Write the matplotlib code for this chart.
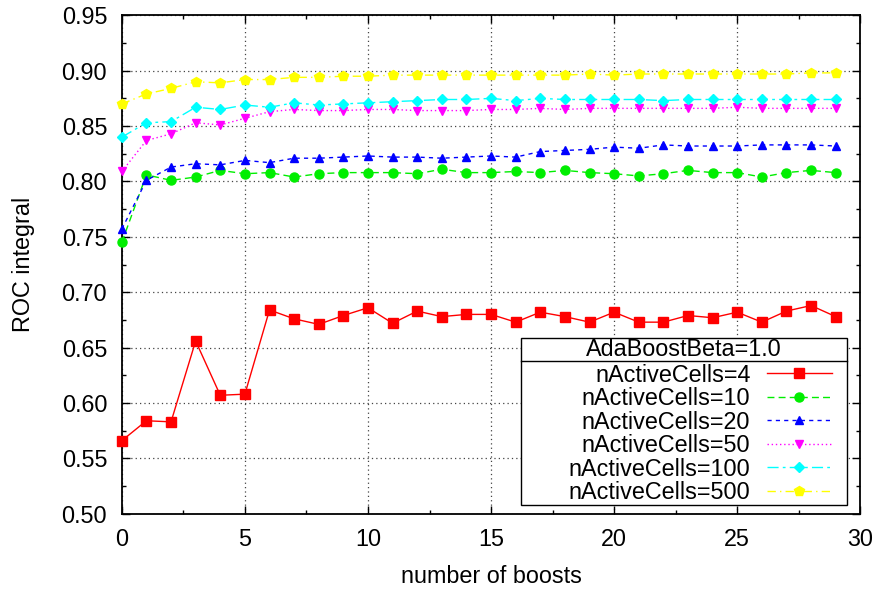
import matplotlib
matplotlib.use("Agg")
import matplotlib.pyplot as plt
from matplotlib.patches import Rectangle
from matplotlib.lines import Line2D
from matplotlib.ticker import MultipleLocator, FormatStrFormatter

plt.rcParams['font.family'] = ['Liberation Sans', 'DejaVu Sans']

boosts = list(range(30))

roc_4 = [0.566, 0.584, 0.583, 0.656, 0.607, 0.608, 0.684, 0.676, 0.671, 0.679,
         0.686, 0.672, 0.683, 0.678, 0.680, 0.680, 0.673, 0.682, 0.678, 0.673,
         0.682, 0.673, 0.673, 0.679, 0.677, 0.682, 0.673, 0.683, 0.688, 0.678]
roc_10 = [0.745, 0.806, 0.801, 0.804, 0.810, 0.807, 0.808, 0.804, 0.807, 0.808,
          0.808, 0.808, 0.807, 0.811, 0.808, 0.808, 0.809, 0.808, 0.810, 0.808,
          0.807, 0.805, 0.807, 0.810, 0.808, 0.808, 0.804, 0.808, 0.810, 0.808]
roc_20 = [0.757, 0.801, 0.813, 0.816, 0.815, 0.819, 0.817, 0.821, 0.821, 0.822,
          0.823, 0.822, 0.822, 0.821, 0.822, 0.823, 0.822, 0.827, 0.828, 0.829,
          0.831, 0.830, 0.833, 0.832, 0.832, 0.832, 0.833, 0.833, 0.833, 0.832]
roc_50 = [0.809, 0.837, 0.843, 0.853, 0.851, 0.857, 0.863, 0.865, 0.864, 0.864,
          0.865, 0.865, 0.864, 0.864, 0.864, 0.865, 0.865, 0.866, 0.865, 0.866,
          0.866, 0.866, 0.866, 0.866, 0.866, 0.867, 0.866, 0.866, 0.866, 0.866]
roc_100 = [0.840, 0.853, 0.854, 0.867, 0.865, 0.869, 0.867, 0.871, 0.869, 0.870,
           0.871, 0.872, 0.873, 0.874, 0.874, 0.875, 0.873, 0.875, 0.874, 0.874,
           0.874, 0.874, 0.873, 0.874, 0.874, 0.874, 0.874, 0.874, 0.874, 0.874]
roc_500 = [0.870, 0.879, 0.884, 0.890, 0.889, 0.892, 0.892, 0.894, 0.894, 0.895,
           0.895, 0.896, 0.896, 0.896, 0.896, 0.896, 0.896, 0.896, 0.896, 0.897,
           0.896, 0.897, 0.897, 0.897, 0.897, 0.897, 0.897, 0.897, 0.898, 0.898]

labels = ["nActiveCells=4", "nActiveCells=10", "nActiveCells=20",
          "nActiveCells=50", "nActiveCells=100", "nActiveCells=500"]
title = "AdaBoostBeta=1.0"

# gnuplot-like styles: colour, marker, marker size, dash pattern
styles = [
    ("#ff0000", "s", 6.5, "-"),
    ("#00ee00", "o", 6.5, (0, (5, 3))),
    ("#0000ff", "^", 6.0, (0, (3, 3))),
    ("#ff00ff", "v", 6.0, (0, (1, 2))),
    ("#00ffff", "D", 5.0, (0, (8, 3, 2, 3))),
    ("#ffff00", "p", 7.0, (0, (6, 3, 1, 3))),
]
series = [roc_4, roc_10, roc_20, roc_50, roc_100, roc_500]

FS = 16.8
W, H = 880, 592
fig = plt.figure(figsize=(W / 100, H / 100), dpi=100)
ax = fig.add_axes([121.8 / W, 1 - 513.8 / H, (860.3 - 121.8) / W, (513.8 - 15.3) / H])

for vals, lab, (c, m, ms, ls) in zip(series, labels, styles):
    ax.plot(boosts, vals, color=c, marker=m, markersize=ms, linestyle=ls,
            linewidth=1.0, label=lab, clip_on=False, zorder=3)

ax.set_xlim(0, 30)
ax.set_ylim(0.50, 0.95)
ax.xaxis.set_major_locator(MultipleLocator(5))
ax.xaxis.set_minor_locator(MultipleLocator(2.5))
ax.yaxis.set_major_locator(MultipleLocator(0.05))
ax.yaxis.set_minor_locator(MultipleLocator(0.025))
ax.yaxis.set_major_formatter(FormatStrFormatter("%.2f"))

ax.tick_params(which="both", direction="in", top=True, right=True,
               labelsize=FS, width=1.0)
ax.tick_params(which="major", length=6, pad=10.5)
ax.tick_params(which="minor", length=3)
for sp in ax.spines.values():
    sp.set_linewidth(1.3)

ax.grid(True, which="major", color="#444444", linestyle=(0, (1, 2.5)),
        linewidth=0.9)
ax.set_axisbelow(True)

ax.set_xlabel("number of boosts", fontsize=FS, labelpad=10)
ax.set_ylabel("ROC integral", fontsize=FS, labelpad=19)

# key box with a title row, like gnuplot's
bx0, bx1, by0, by1, bsep = 521, 847, 337.5, 504.5, 361
ax.add_patch(Rectangle((bx0 / W, 1 - by1 / H), (bx1 - bx0) / W, (by1 - by0) / H,
                       transform=fig.transFigure, facecolor="white",
                       edgecolor="black", linewidth=1.0, zorder=4, clip_on=False))
ax.add_line(Line2D([bx0 / W, bx1 / W], [1 - bsep / H, 1 - bsep / H],
                   transform=fig.transFigure, color="black", linewidth=1.0,
                   zorder=5, clip_on=False))
ax.text((bx0 + bx1) / 2 / W, 1 - (by0 + bsep) / 2 / H, title, fontsize=FS,
        ha="center", va="center", transform=fig.transFigure, zorder=6)

leg = ax.legend(loc="lower right", bbox_to_anchor=(832 / W, 1 - 504 / H),
                bbox_transform=fig.transFigure, frameon=False, markerfirst=False,
                fontsize=FS, handlelength=2.8, handletextpad=0.7,
                labelspacing=0.02, borderpad=0, borderaxespad=0)
leg.set_zorder(7)

fig.savefig("out.png", dpi=100)
